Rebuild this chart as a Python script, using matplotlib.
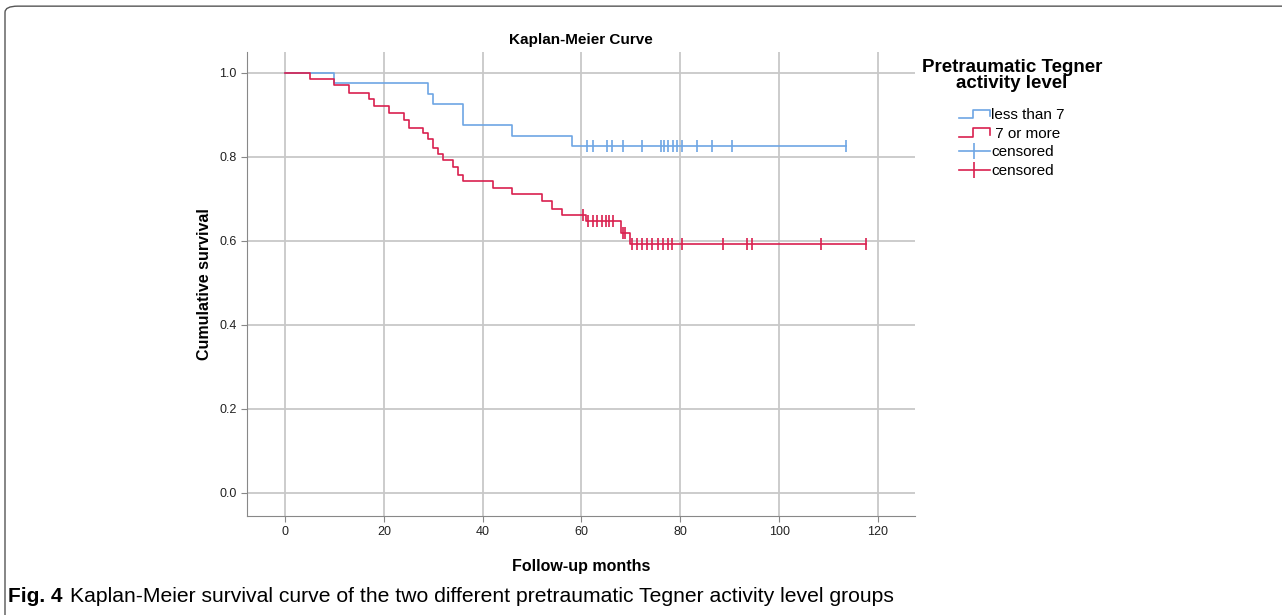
import numpy as np
import matplotlib.pyplot as plt
from matplotlib.lines import Line2D
from matplotlib.legend_handler import HandlerBase
from matplotlib.patches import FancyBboxPatch

plt.rcParams['font.family'] = ['Liberation Sans', 'DejaVu Sans']

# step data (months, cumulative survival after the event)
blue_event_t = [10, 29, 30, 36, 46, 58]
blue_event_s = [0.975, 0.95, 0.925, 0.875, 0.85, 0.825]
blue_cens_t = [61.2, 62.3, 65.2, 66.2, 68.3, 72.3, 76.1, 76.8, 77.6, 78.6,
               79.4, 80.3, 83.3, 86.4, 90.4, 113.5]

red_event_t = [5, 10, 13, 17, 18, 21, 24, 25, 28, 29, 30, 31, 32, 34, 35, 36,
               42, 46, 52, 54, 56, 61, 68, 69.9]
red_event_s = [0.985, 0.971, 0.952, 0.939, 0.922, 0.905, 0.888, 0.870, 0.857,
               0.843, 0.821, 0.807, 0.793, 0.777, 0.758, 0.742, 0.727, 0.711,
               0.694, 0.677, 0.663, 0.647, 0.619, 0.592]
red_cens_t = [60.4, 61.4, 62.4, 63.2, 64.1, 65.0, 65.6, 66.3, 68.3, 68.9,
              70.2, 71.2, 72.2, 73.2, 74.2, 75.4, 76.5, 77.5, 78.3, 80.3,
              88.7, 93.5, 94.5, 108.4, 117.6]

x_ticks = [0, 20, 40, 60, 80, 100, 120]
y_ticks = [0.0, 0.2, 0.4, 0.6, 0.8, 1.0]

blue = '#6ea6e4'
red = '#d9204f'


def step_xy(ev_t, ev_s, end_t):
    x = [0] + list(ev_t) + [end_t]
    y = [1.0] + list(ev_s) + [ev_s[-1]]
    return x, y


def surv_at(ev_t, ev_s, t):
    idx = np.searchsorted(ev_t, t, side='right')
    s = np.r_[1.0, ev_s]
    return s[idx]


class StepHandler(HandlerBase):
    def create_artists(self, legend, orig, xd, yd, w, h, fs, trans):
        xs = [xd, xd + w * 0.45, xd + w * 0.45, xd + w, xd + w]
        ys = [yd + h * 0.1, yd + h * 0.1, yd + h * 0.9, yd + h * 0.9, yd + h * 0.3]
        ln = Line2D(xs, ys, color=orig.get_color(), lw=orig.get_linewidth(),
                    transform=trans)
        return [ln]


fig = plt.figure(figsize=(12.82, 6.15), dpi=100)
ax = fig.add_axes([247 / 1282, 1 - 516 / 615, (915 - 247) / 1282, (516 - 52) / 615])

for ev_t, ev_s, c_t, col in [(blue_event_t, blue_event_s, blue_cens_t, blue),
                             (red_event_t, red_event_s, red_cens_t, red)]:
    x, y = step_xy(ev_t, ev_s, max(c_t))
    ax.step(x, y, where='post', color=col, lw=1.2, zorder=3)
    ax.plot(c_t, surv_at(np.array(ev_t), np.array(ev_s), np.array(c_t)), ls='none',
            marker='|', ms=8, mew=1.2, color=col, zorder=4)

ax.set_xlim(-7.7, 127.5)
ax.set_ylim(-0.055, 1.05)
ax.set_xticks(x_ticks)
ax.set_yticks(y_ticks)
ax.set_yticklabels([f'{v:.1f}' for v in y_ticks])
ax.grid(True, color='#c8c8c8', lw=1.3)
ax.set_axisbelow(True)
for s in ['top', 'right']:
    ax.spines[s].set_visible(False)
for s in ['left', 'bottom']:
    ax.spines[s].set_color('#888888')
ax.tick_params(colors='#888888', labelcolor='#222222', labelsize=9, length=4)

ax.set_title('Kaplan-Meier Curve', fontsize=11, fontweight='bold', pad=6)
ax.set_xlabel('Follow-up months', fontsize=11.5, fontweight='bold', labelpad=15)
ax.set_ylabel('Cumulative survival', fontsize=11.5, fontweight='bold', labelpad=5)

h1 = Line2D([], [], color=blue, lw=1.2)
h2 = Line2D([], [], color=red, lw=1.2)
h3 = Line2D([], [], color=blue, lw=1.2, marker='|', ms=12, mew=1.2)
h4 = Line2D([], [], color=red, lw=1.2, marker='|', ms=12, mew=1.2)
leg = fig.legend([h1, h2, h3, h4], ['less than 7', ' 7 or more', 'censored', 'censored'],
                 handler_map={h1: StepHandler(), h2: StepHandler()},
                 loc='upper center', bbox_to_anchor=(1012 / 1282, 1 - 59 / 615),
                 title='Pretraumatic Tegner\nactivity level', frameon=False,
                 fontsize=11, handlelength=2.0, handletextpad=0.1,
                 labelspacing=0.3, borderaxespad=0, borderpad=0,
                 alignment='center')
leg.get_title().set_fontweight('bold')
leg.get_title().set_fontsize(13.5)
leg.get_title().set_linespacing(0.95)
leg.get_title().set_multialignment('center')
leg._legend_box.sep = 11.5  # extra gap between title and entries

fig.text(8 / 1282, 1 - 596 / 615, 'Fig. 4', fontsize=15, fontweight='bold',
         va='center')
fig.text(70 / 1282, 1 - 596 / 615,
         'Kaplan-Meier survival curve of the two different pretraumatic Tegner activity level groups',
         fontsize=15.2, va='center')

box = FancyBboxPatch((5 / 1282, -0.05), 1.05, 1.04, transform=fig.transFigure,
                     boxstyle='round,pad=0,rounding_size=0.01', fill=False,
                     ec='#555555', lw=1.0)
fig.patches.append(box)

fig.savefig('out.png', dpi=100)
